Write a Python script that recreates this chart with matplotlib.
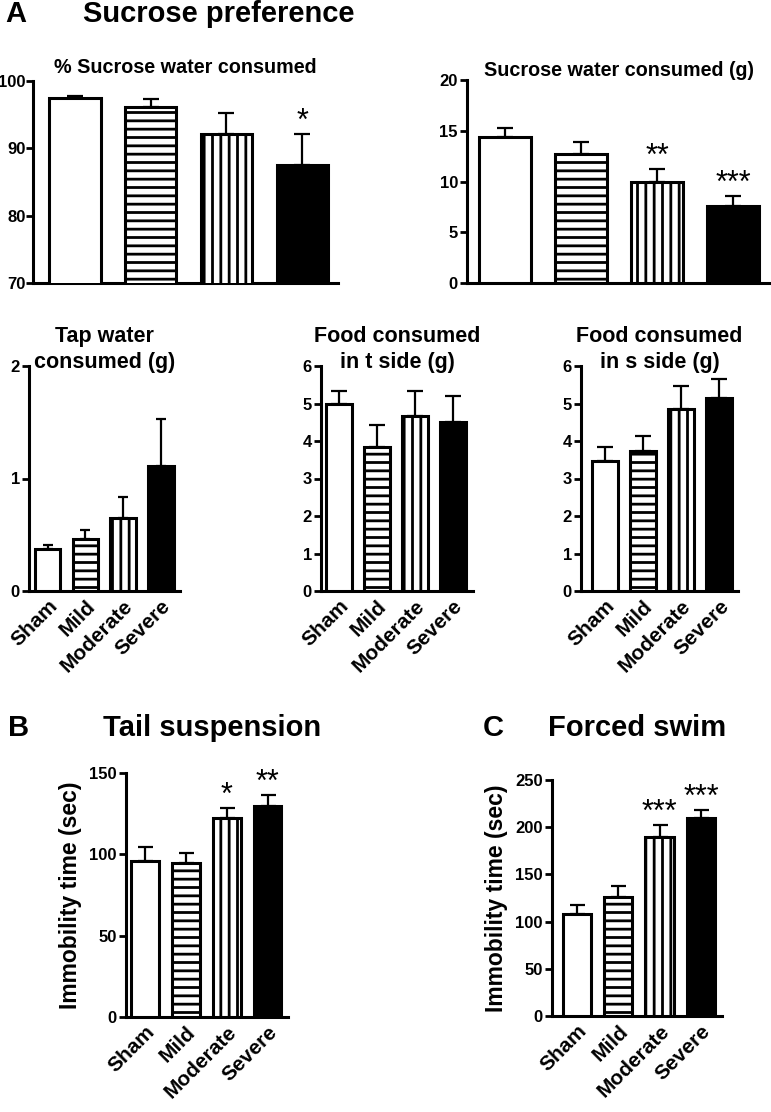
import numpy as np
import matplotlib
matplotlib.use('Agg')
import matplotlib.pyplot as plt

plt.rcParams['font.family'] = ['Liberation Sans', 'DejaVu Sans']
plt.rcParams['font.weight'] = 'bold'
plt.rcParams['hatch.linewidth'] = 2.0

# data (mean, upper error)
groups = ['Sham', 'Mild', 'Moderate', 'Severe']

pct_sucrose = [97.5, 96.1, 92.2, 87.5]
pct_sucrose_err = [0.3, 1.2, 3.1, 4.6]
pct_sucrose_stars = ['', '', '', '*']

sucrose_g = [14.4, 12.7, 10.0, 7.6]
sucrose_g_err = [0.9, 1.2, 1.2, 1.0]
sucrose_g_stars = ['', '', '**', '***']

tap_g = [0.37, 0.46, 0.65, 1.11]
tap_g_err = [0.04, 0.08, 0.19, 0.42]

food_t = [4.99, 3.85, 4.68, 4.50]
food_t_err = [0.35, 0.57, 0.66, 0.71]

food_s = [3.47, 3.74, 4.85, 5.15]
food_s_err = [0.38, 0.40, 0.62, 0.50]

tail = [95.8, 94.9, 122.3, 129.5]
tail_err = [9.0, 6.2, 5.9, 6.8]
tail_stars = ['', '', '*', '**']

swim = [108.4, 126.0, 190.0, 209.4]
swim_err = [8.9, 11.7, 12.3, 8.8]
swim_stars = ['', '', '***', '***']

fills = ['white', 'white', 'white', 'black']
hatches = [None, '--', '||', None]

W, H = 771, 1112
fig = plt.figure(figsize=(W / 100, H / 100), dpi=100)


def px_axes(x0, y0, x1, y1):
    return fig.add_axes([x0 / W, 1 - y1 / H, (x1 - x0) / W, (y1 - y0) / H])


def draw_bars(ax, vals, errs, capsize, xlim, ylim, yticks, stars=None,
              labels=True, tick_size=12, ypad=1.5):
    x = np.arange(len(vals))
    bars = ax.bar(x, vals, width=0.68, color=fills, edgecolor='black',
                  linewidth=2.2, zorder=3)
    for b, h in zip(bars, hatches):
        if h:
            b.set_hatch(h)
    ax.errorbar(x, vals, yerr=[np.zeros(len(vals)), errs], fmt='none',
                ecolor='black', elinewidth=1.6, capsize=capsize,
                capthick=1.6, zorder=2)
    if stars:
        for xi, v, e, s in zip(x, vals, errs, stars):
            if s:
                ax.annotate(s, (xi, v + e), xytext=(0, -2),
                            textcoords='offset points', ha='center',
                            va='bottom', fontsize=22, fontweight='normal')
    ax.set_xlim(*xlim)
    ax.set_ylim(*ylim)
    ax.set_yticks(yticks)
    ax.set_xticks(x)
    if labels:
        ax.set_xticklabels(groups, rotation=45, ha='right',
                           rotation_mode='anchor', fontsize=15,
                           fontweight='bold')
    else:
        ax.set_xticklabels([])
    for sp in ['top', 'right']:
        ax.spines[sp].set_visible(False)
    for sp in ['left', 'bottom']:
        ax.spines[sp].set_linewidth(2.2)
    ax.tick_params(axis='x', length=0, pad=4)
    ax.tick_params(axis='y', length=5, width=2, labelsize=tick_size, pad=ypad)
    for t in ax.get_yticklabels():
        t.set_fontweight('bold')


# A, top row
ax1 = px_axes(33, 81, 338, 283)
draw_bars(ax1, pct_sucrose, pct_sucrose_err, 5.8, (-0.55, 3.47), (70, 100),
          [70, 80, 90, 100], pct_sucrose_stars, labels=False, ypad=0.3)
ax1.set_title('% Sucrose water consumed', fontsize=14.2, fontweight='bold', pad=6)

ax2 = px_axes(467, 80, 771, 283)
draw_bars(ax2, sucrose_g, sucrose_g_err, 5.8, (-0.5, 3.5), (0, 20),
          [0, 5, 10, 15, 20], sucrose_g_stars, labels=False)
ax2.set_title('Sucrose water consumed (g)', fontsize=14.2, fontweight='bold', pad=1)

# A, second row (titles dip into the axes top, so fix y to stop auto-shifting)
title_kw = dict(fontsize=15.5, fontweight='bold', y=1.0, pad=-1.3,
                linespacing=1.28)
ax3 = px_axes(29, 366, 180, 591)
draw_bars(ax3, tap_g, tap_g_err, 3.5, (-0.49, 3.5), (0, 2), [0, 1, 2])
ax3.set_title('Tap water\nconsumed (g)', **title_kw)

ax4 = px_axes(321, 366, 473, 591)
draw_bars(ax4, food_t, food_t_err, 6, (-0.47, 3.53), (0, 6), range(7))
ax4.set_title('Food consumed\nin t side (g)', **title_kw)

ax5 = px_axes(581, 366, 738, 591)
draw_bars(ax5, food_s, food_s_err, 5.5, (-0.63, 3.49), (0, 6), range(7))
ax5.set_title('Food consumed\nin s side (g)', **title_kw)

# B and C
ax6 = px_axes(126, 773, 288, 1017)
draw_bars(ax6, tail, tail_err, 5.4, (-0.47, 3.5), (0, 150), [0, 50, 100, 150],
          tail_stars)
ax6.set_ylabel('Immobility time (sec)', fontsize=16.5, fontweight='bold',
               labelpad=5)

ax7 = px_axes(552, 780, 722, 1016)
draw_bars(ax7, swim, swim_err, 5.4, (-0.6, 3.51), (0, 250),
          [0, 50, 100, 150, 200, 250], swim_stars)
ax7.set_ylabel('Immobility time (sec)', fontsize=16.5, fontweight='bold',
               labelpad=5)

# panel headings
fig.text(5 / W, 1 - 14 / H, 'A', fontsize=21, fontweight='bold', va='center')
fig.text(83 / W, 1 - 14 / H, 'Sucrose preference', fontsize=21,
         fontweight='bold', va='center')
fig.text(8 / W, 1 - 728 / H, 'B', fontsize=21, fontweight='bold', va='center')
fig.text(103 / W, 1 - 728 / H, 'Tail suspension', fontsize=21,
         fontweight='bold', va='center')
fig.text(483 / W, 1 - 728 / H, 'C', fontsize=21, fontweight='bold', va='center')
fig.text(548 / W, 1 - 728 / H, 'Forced swim', fontsize=21,
         fontweight='bold', va='center')

fig.savefig('out.png', dpi=100, facecolor='white')
